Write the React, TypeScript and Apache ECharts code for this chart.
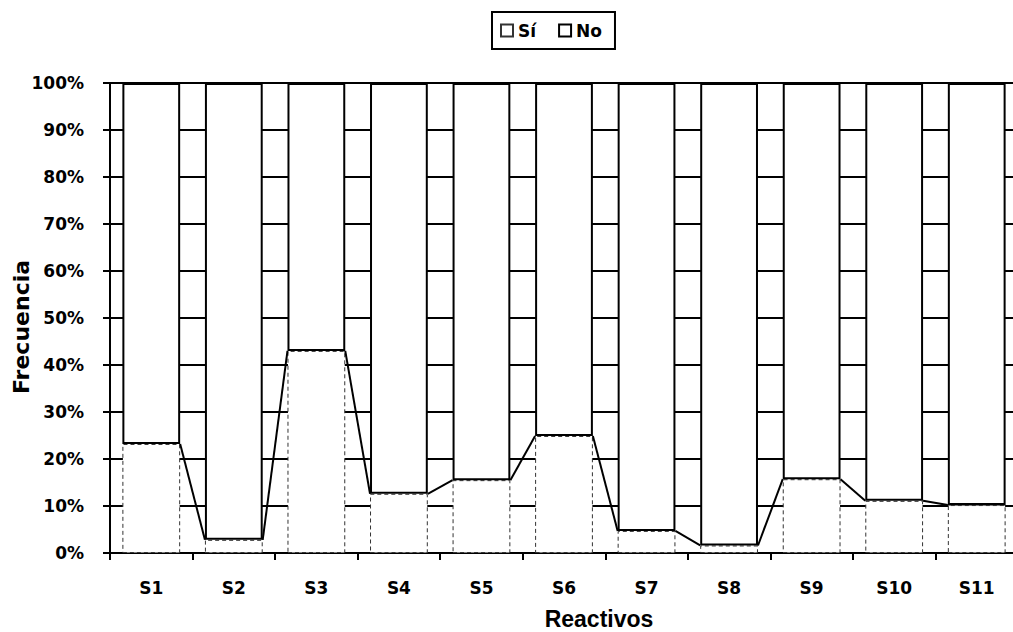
import React, { useEffect, useRef } from 'react';
import * as echarts from 'echarts';

const categories = ['S1', 'S2', 'S3', 'S4', 'S5', 'S6', 'S7', 'S8', 'S9', 'S10', 'S11'];
const siValues = [23.2, 2.8, 43.0, 12.6, 15.5, 24.9, 4.7, 1.6, 15.7, 11.1, 10.2];
const noValues = [76.8, 97.2, 57.0, 87.4, 84.5, 75.1, 95.3, 98.4, 84.3, 88.9, 89.8];
const seriesNames = ['Sí', 'No'];
const yAxisTitle = 'Frecuencia';
const xAxisTitle = 'Reactivos';

const wideFont = 'DejaVu Sans';
const arialFont = 'Liberation Sans, Arial, sans-serif';

export default function App() {
  const ref = useRef<HTMLDivElement>(null);

  useEffect(() => {
    if (!ref.current) return;
    const chart = echarts.init(ref.current, null, { renderer: 'svg' });
    const lineData = siValues.slice(0, -1).map((v, i) => [i, v, siValues[i + 1]]);

    chart.setOption({
      animation: false,
      backgroundColor: '#fff',
      grid: { left: 110, top: 83, bottom: 79, width: 908 },
      legend: {
        data: seriesNames,
        left: 492,
        top: 12,
        orient: 'horizontal',
        borderColor: '#000',
        borderWidth: 2,
        padding: [10, 13, 10, 8],
        itemWidth: 12,
        itemHeight: 12,
        itemGap: 22,
        icon: 'rect',
        textStyle: { fontFamily: wideFont, fontWeight: 'bold', fontSize: 17, color: '#000' },
      },
      xAxis: {
        type: 'category',
        data: categories,
        axisLine: { show: true, lineStyle: { color: '#000', width: 1 } },
        axisTick: { show: true, length: 7, lineStyle: { color: '#000', width: 2 } },
        axisLabel: { margin: 26, color: '#000', fontFamily: wideFont, fontWeight: 'bold', fontSize: 17 },
        splitLine: { show: false },
      },
      yAxis: {
        type: 'value',
        min: 0,
        max: 100,
        interval: 10,
        axisLine: { show: true, lineStyle: { color: '#000', width: 2 } },
        axisTick: { show: true, length: 7, lineStyle: { color: '#000', width: 2 } },
        axisLabel: {
          formatter: '{value}%',
          margin: 26,
          color: '#000',
          fontFamily: wideFont,
          fontWeight: 'bold',
          fontSize: 17,
        },
        splitLine: { show: true, lineStyle: { color: '#000', width: 2 } },
      },
      series: [
        {
          name: seriesNames[0],
          type: 'bar',
          stack: 'total',
          barCategoryGap: '30%',
          data: siValues,
          itemStyle: { color: '#fff', borderColor: '#333', borderWidth: 1, borderType: [4, 3] },
          z: 2,
        },
        {
          name: seriesNames[1],
          type: 'bar',
          stack: 'total',
          barCategoryGap: '30%',
          data: noValues,
          itemStyle: { color: '#fff', borderColor: '#000', borderWidth: 2 },
          z: 2,
        },
        {
          name: 'lines',
          type: 'custom',
          data: lineData,
          encode: { x: 0, y: 1 },
          z: 3,
          silent: true,
          renderItem: (params: any, api: any) => {
            const i = api.value(0);
            const a = api.value(1);
            const b = api.value(2);
            const p1 = api.coord([i, a]);
            const p2 = api.coord([i + 1, b]);
            const hw = api.size([1, 0])[0] * 0.35;
            return {
              type: 'line',
              shape: { x1: p1[0] + hw, y1: p1[1], x2: p2[0] - hw, y2: p2[1] },
              style: { stroke: '#000', lineWidth: 2 },
            };
          },
        },
      ],
      graphic: [
        {
          type: 'text',
          x: 21,
          y: 327,
          rotation: Math.PI / 2,
          style: {
            text: yAxisTitle,
            fill: '#000',
            font: `bold 22px ${wideFont}`,
            textAlign: 'center',
            textVerticalAlign: 'middle',
          },
        },
        {
          type: 'text',
          x: 599,
          y: 619,
          style: {
            text: xAxisTitle,
            fill: '#000',
            font: `bold 23px ${arialFont}`,
            textAlign: 'center',
            textVerticalAlign: 'middle',
          },
        },
      ],
    });

    return () => chart.dispose();
  }, []);

  return (
    <div
      style={{
        position: 'fixed',
        left: 0,
        top: 0,
        width: 1013,
        height: 632,
        overflow: 'hidden',
        background: '#fff',
      }}
    >
      <div ref={ref} style={{ width: 1030, height: 632 }} />
    </div>
  );
}
